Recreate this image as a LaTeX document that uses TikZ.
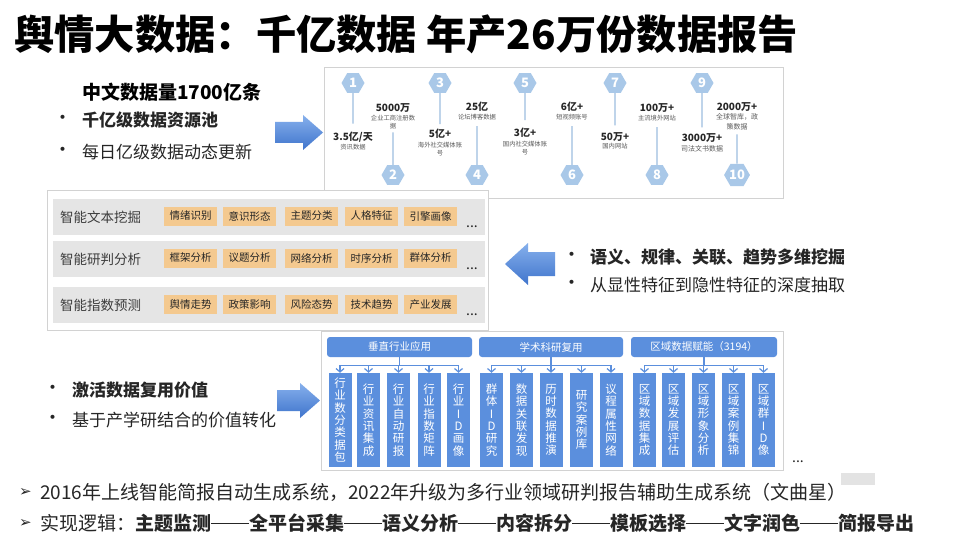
\documentclass[tikz,border=0pt]{standalone}
\usepackage{fontspec}
\setmainfont{Noto Sans CJK SC}
\newfontfamily\dejavu{DejaVu Sans}
\usetikzlibrary{shapes.geometric,arrows.meta}
\definecolor{txt}{HTML}{262626}
\definecolor{subc}{HTML}{595959}
\definecolor{hexc}{HTML}{A9C8E8}
\definecolor{hexl}{HTML}{9DBDE0}
\definecolor{tagc}{HTML}{F4C98F}
\definecolor{rowc}{HTML}{E5E5E5}
\definecolor{bluec}{HTML}{5B8FDD}
\definecolor{bord}{HTML}{D2D2D2}
\definecolor{arrtop}{HTML}{86B0EC}
\definecolor{arrbot}{HTML}{3F74CC}
\newcommand{\fs}[1]{\fontsize{#1}{#1}\selectfont}
\newcommand{\dashln}{\raisebox{6.2pt}{\rule{38pt}{1.6pt}}}
\begin{document}
\begin{tikzpicture}[x=1pt,y=-1pt,
  hexn/.style={regular polygon, regular polygon sides=6, minimum size=23pt, inner sep=0pt, fill=hexc, text=white, font=\fs{13}\bfseries},
  numl/.style={inner sep=0pt, text=txt, font=\fs{10}\bfseries},
  subl/.style={inner sep=0pt, text=subc, font=\fontsize{6.3}{8.5}\selectfont, align=center},
  hexline/.style={draw=hexl, line width=1.1pt},
  frame/.style={draw=bord, line width=0.9pt, inner sep=0pt},
  rowbar/.style={fill=rowc, inner sep=0pt, anchor=north west, minimum width=432pt, minimum height=36pt},
  tagn/.style={fill=tagc, minimum width=53pt, minimum height=19pt, inner sep=0pt, text=txt, font=\fs{10.5}},
  rowlab/.style={anchor=west, inner sep=0pt, text=txt!90, font=\fs{13.5}},
  dotsn/.style={anchor=base, inner sep=0pt, text=txt, font=\fs{14}},
  hdrn/.style={fill=bluec, rounded corners=3pt, text=white, font=\fs{10.5}, minimum height=20pt, inner sep=0pt},
  coln/.style={fill=bluec, minimum width=23pt, minimum height=94pt, text=white, font=\fontsize{11.5}{12.3}\selectfont, align=center, inner sep=0pt},
  linkc/.style={draw=bluec, line width=1.2pt, -{Straight Barb[length=3.5pt,width=8pt]}},
  bul/.style={inner sep=0pt, text=txt, font=\fs{19}},
  btxt/.style={anchor=west, inner sep=0pt, text=txt, font=\fs{17}},
  arrsh/.style={top color=arrtop, bottom color=arrbot}
]
\useasboundingbox (0,0) rectangle (960,540);
\fill[white] (0,0) rectangle (960,540);

% title
\node[anchor=west, inner sep=0pt, font=\fs{40.3}\bfseries, text=black] (title) at (14,34) {舆情大数据：千亿数据 年产26万份数据报告};

% top-left block
\node[anchor=west, inner sep=0pt, text=black, font=\fs{19}\bfseries] (h1t) at (82,92) {中文数据量1700亿条};
\node[bul] (b1) at (63,120) {•};
\node[btxt, font=\fs{17}\bfseries] (t1) at (82,120) {千亿级数据资源池};
\node[bul] (b2) at (63,152) {•};
\node[btxt] (t2) at (82,152) {每日亿级数据动态更新};
\shade[arrsh] (275,122) -- (303,122) -- (303,115) -- (323,132.5) -- (303,150) -- (303,143) -- (275,143) -- cycle;

% top-right data box
\node[frame, anchor=north west, minimum width=459pt, minimum height=131pt] (topbox) at (324,67) {};
\node[hexn] (h1) at (353,83) {1};
\node[numl] (n1) at (353,137) {3.5亿/天};
\node[subl] (s1) at (353,147) {资讯数据};
\draw[hexline, shorten >=8pt] (h1.south) -- (n1.north);
\node[hexn] (h2) at (393,175) {2};
\node[numl] (n2) at (393,108) {5000万};
\node[subl] (s2) at (393,122) {企业工商注册数\\据};
\draw[hexline, shorten <=3pt] (s2.south) -- (h2.north);
\node[hexn] (h3) at (440,83) {3};
\node[numl] (n3) at (440,134) {5亿+};
\node[subl] (s3) at (440,149) {海外社交媒体账\\号};
\draw[hexline, shorten >=5pt] (h3.south) -- (n3.north);
\node[hexn] (h4) at (477,175) {4};
\node[numl] (n4) at (477,107) {25亿};
\node[subl] (s4) at (477,117) {论坛博客数据};
\draw[hexline, shorten <=6pt] (s4.south) -- (h4.north);
\node[hexn] (h5) at (525,83) {5};
\node[numl] (n5) at (525,133) {3亿+};
\node[subl] (s5) at (525,148) {国内社交媒体账\\号};
\draw[hexline, shorten >=8pt] (h5.south) -- (n5.north);
\node[hexn] (h6) at (572,175) {6};
\node[numl] (n6) at (572,107) {6亿+};
\node[subl] (s6) at (572,117) {短视频账号};
\draw[hexline, shorten <=6pt] (s6.south) -- (h6.north);
\node[hexn] (h7) at (615,83) {7};
\node[numl] (n7) at (615,137) {50万+};
\node[subl] (s7) at (615,146) {国内网站};
\draw[hexline, shorten >=7pt] (h7.south) -- (n7.north);
\node[hexn] (h8) at (657,175) {8};
\node[numl] (n8) at (657,108) {100万+};
\node[subl] (s8) at (657,118) {主流境外网站};
\draw[hexline, shorten <=6pt] (s8.south) -- (h8.north);
\node[hexn] (h9) at (702,83) {9};
\node[numl] (n9) at (702,138) {3000万+};
\node[subl, font=\fs{7}] (s9) at (702,149) {司法文书数据};
\draw[hexline, shorten >=6pt] (h9.south) -- (n9.north);
\node[hexn] (h10) at (737,175) {10};
\node[numl] (n10) at (737,107) {2000万+};
\node[subl, font=\fontsize{7}{10}\selectfont] (s10) at (737,122) {全球智库，政\\策数据};
\draw[hexline, shorten <=4pt] (s10.south) -- (h10.north);

% middle panel
\node[frame, fill=white, anchor=north west, minimum width=441pt, minimum height=140pt] (mid) at (47,190) {};
\node[rowbar] (r1) at (53,199) {};
\node[rowbar] (r2) at (53,241) {};
\node[rowbar] (r3) at (53,287) {};
\node[rowlab] (rl1) at (60,217) {智能文本挖掘};
\node[rowlab] (rl2) at (60,259) {智能研判分析};
\node[rowlab] (rl3) at (60,305) {智能指数预测};
\node[tagn] (a11) at (190.5,216) {情绪识别};
\node[tagn] (a12) at (249.5,216) {意识形态};
\node[tagn] (a13) at (311.5,216) {主题分类};
\node[tagn] (a14) at (371.5,216) {人格特征};
\node[tagn] (a15) at (430.5,216) {引擎画像};
\node[dotsn] (d1) at (472,227) {...};
\node[tagn] (a21) at (190.5,258) {框架分析};
\node[tagn] (a22) at (249.5,258) {议题分析};
\node[tagn] (a23) at (311.5,258) {网络分析};
\node[tagn] (a24) at (371.5,258) {时序分析};
\node[tagn] (a25) at (430.5,258) {群体分析};
\node[dotsn] (d2) at (472,269) {...};
\node[tagn] (a31) at (190.5,304.5) {舆情走势};
\node[tagn] (a32) at (249.5,304.5) {政策影响};
\node[tagn] (a33) at (311.5,304.5) {风险态势};
\node[tagn] (a34) at (371.5,304.5) {技术趋势};
\node[tagn] (a35) at (430.5,304.5) {产业发展};
\node[dotsn] (d3) at (472,315) {...};

% middle right
\shade[arrsh] (505,264) -- (528,243) -- (528,252) -- (555,252) -- (555,276) -- (528,276) -- (528,285) -- cycle;
\node[bul] (b3) at (572,257) {•};
\node[btxt, font=\fs{17}\bfseries] (t3) at (590,257) {语义、规律、关联、趋势多维挖掘};
\node[bul] (b4) at (572,285) {•};
\node[btxt] (t4) at (590,285) {从显性特征到隐性特征的深度抽取};

% bottom-left
\node[bul] (b5) at (53,390) {•};
\node[btxt, font=\fs{17}\bfseries] (t5) at (72,390) {激活数据复用价值};
\node[bul] (b6) at (53,420) {•};
\node[btxt] (t6) at (72,420) {基于产学研结合的价值转化};
\shade[arrsh] (277,390) -- (300,390) -- (300,383) -- (320,400.5) -- (300,418) -- (300,411) -- (277,411) -- cycle;

% bottom panel
\node[frame, fill=white, anchor=north west, minimum width=462pt, minimum height=139pt] (bot) at (321,331) {};
\node[hdrn, minimum width=145pt] (g1) at (399.5,347) {垂直行业应用};
\node[hdrn, minimum width=144pt] (g2) at (551,347) {学术科研复用};
\node[hdrn, minimum width=146pt] (g3) at (704,347) {区域数据赋能（3194）};

\node[coln] (c11) at (340,420) {行\\业\\数\\分\\类\\据\\包};
\node[coln] (c12) at (368.5,420) {行\\业\\资\\讯\\集\\成};
\node[coln] (c13) at (398.5,420) {行\\业\\自\\动\\研\\报};
\node[coln] (c14) at (429,420) {行\\业\\指\\数\\矩\\阵};
\node[coln] (c15) at (458.5,420) {行\\业\\I\\D\\画\\像};
\node[coln] (c21) at (491.5,420) {群\\体\\I\\D\\研\\究};
\node[coln] (c22) at (521.5,420) {数\\据\\关\\联\\发\\现};
\node[coln] (c23) at (551,420) {历\\时\\数\\据\\推\\演};
\node[coln] (c24) at (581.5,420) {研\\究\\案\\例\\库};
\node[coln] (c25) at (611,420) {议\\程\\属\\性\\网\\络};
\node[coln] (c31) at (644.5,420) {区\\域\\数\\据\\集\\成};
\node[coln] (c32) at (673.5,420) {区\\域\\发\\展\\评\\估};
\node[coln] (c33) at (703.5,420) {区\\域\\形\\象\\分\\析};
\node[coln] (c34) at (733.5,420) {区\\域\\案\\例\\集\\锦};
\node[coln] (c35) at (763.5,420) {区\\域\\群\\I\\D\\像};

\foreach \g in {1,2,3}{
  \foreach \k in {1,...,5}{
    \draw[linkc] (g\g.south) -- ++(0,8) -| (c\g\k.north);
  }
}
\node[dotsn] (d4) at (798,462) {...};

% small gray tag
\node[fill=gray!22, anchor=north west, minimum width=34pt, minimum height=12pt, inner sep=0pt] (wm) at (841,473) {};

% bottom lines
\node[anchor=west, inner sep=0pt, text=txt, font=\dejavu\fs{15}] (ar1) at (19,492) {➢};
\node[btxt, font=\fs{19}] (l1) at (40,492) {2016年上线智能简报自动生成系统，2022年升级为多行业领域研判报告辅助生成系统（文曲星）};
\node[anchor=west, inner sep=0pt, text=txt, font=\dejavu\fs{15}] (ar2) at (19,523) {➢};
\node[btxt, font=\fs{19}] (l2) at (40,523) {实现逻辑：\textbf{主题监测\dashln 全平台采集\dashln 语义分析\dashln 内容拆分\dashln 模板选择\dashln 文字润色\dashln 简报导出}};
\end{tikzpicture}
\end{document}
